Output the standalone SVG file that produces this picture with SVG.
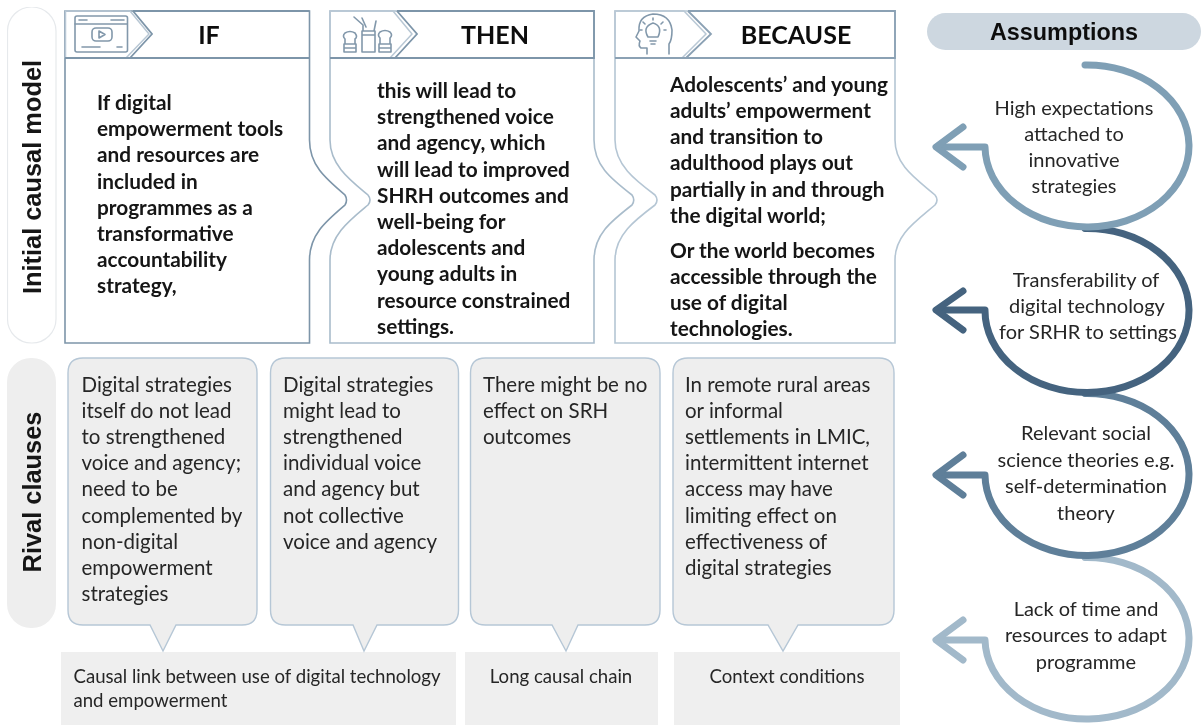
<svg xmlns="http://www.w3.org/2000/svg" width="1202" height="725" viewBox="0 0 1202 725">
<style>
text{font-family:"Lato","Liberation Sans",sans-serif;fill:#1c1c1c}
.b{font-size:20.8px;font-weight:700;fill:#141414}
.h{font-size:25px;font-weight:700;fill:#111;text-anchor:middle}
.r{font-size:20.5px;fill:#262626}
.a{font-size:20px;fill:#262626;text-anchor:middle}
.s{font-size:18.6px;fill:#262626}
.side{font-family:"Liberation Sans",sans-serif;font-size:25.4px;font-weight:700;text-anchor:middle;fill:#151515}
.box{fill:#fff;stroke-width:1.6}
.hd{fill:none;stroke-width:1.8}
.light{fill:none;stroke:#b9c8d5;stroke-width:1.5}
.ic{fill:none;stroke:#8298ab;stroke-width:1.6;stroke-linejoin:round;stroke-linecap:round}
.call{fill:#eeeeee;stroke:#b6c7d6;stroke-width:1.4}
.bar{fill:#efefef}
.arc{fill:none;stroke-width:7;stroke-linecap:round;stroke-linejoin:round}
</style>
<defs><filter id="soft" x="0" y="0" width="100%" height="100%"><feGaussianBlur stdDeviation="0.45"/></filter></defs>
<rect width="1202" height="725" fill="#fff"/>
<g filter="url(#soft)">
<g id="label-initial">
<rect x="7.500" y="7" width="48.500" height="336" rx="24" fill="#fff" stroke="#e6e9ec" stroke-width="1.200"/>
<text class="side" transform="translate(41,177) rotate(-90)">Initial causal model</text>
</g>
<g id="label-rival">
<rect x="7" y="358" width="49" height="270" rx="24" fill="#eeeeee"/>
<text class="side" transform="translate(41,492) rotate(-90)">Rival clauses</text>
</g>
<g id="node-if">
<path class="box" stroke="#7d95a9" d="M65,11H309.500V140C309.500,165 325,178 345,195Q348,200 345,205C325,222 309.500,235 309.500,260V343H65Z"/>
<path class="light" d="M65.500,58V11H130L149,34L126,58"/>
<path class="hd" stroke="#7d95a9" d="M133,11L152,34L130,58M133,11H309.500M65,58H309.500"/>
<g class="ic">
<rect x="75" y="16" width="52.500" height="36" rx="2"/>
<path d="M75,24H127M79,20H87M111,20H124M82,47H100M117,47H122"/>
<rect x="92" y="28" width="20" height="13" rx="4"/>
<path d="M99,31V38L105,34.500Z"/>
</g>
<text class="h" x="209" y="44">IF</text>
<text class="b" x="97" y="110">If digital</text><text class="b" x="97" y="136.200">empowerment tools</text><text class="b" x="97" y="162.400">and resources are</text><text class="b" x="97" y="188.600">included in</text><text class="b" x="97" y="214.800">programmes as a</text><text class="b" x="97" y="241">transformative</text><text class="b" x="97" y="267.200">accountability</text><text class="b" x="97" y="293.400">strategy,</text>
</g>
<g id="node-then">
<path class="box" stroke="#a9bccb" d="M330,11H594V140C594,165 610,178 632,195Q635.500,200 632,205C610,222 594,235 594,260V343H330V260C330,235 350,220 368,205Q372,200 368,195C350,180 330,165 330,140Z"/>
<path class="light" d="M330,58V11H393L412,34L390,58"/>
<path class="hd" stroke="#7d95a9" d="M397,11L417,34L395,58M397,11H594V58H330"/>
<g class="ic">
<path d="M344,52V44H356V52ZM344,48H356M345,44V39Q342,36 345,33Q350,30 355,33Q358,37 355,39V44"/>
<path d="M362,52V31H375V52ZM362,35H375M363,31V25L354,17M366,27L362,18M374,31L376,21"/>
<path d="M379,52V44H391V52ZM379,48H391M380,44V38Q377,35 380,32Q385,29 390,32Q393,35 390,38V44"/>
</g>
<text class="h" x="495" y="44">THEN</text>
<text class="b" x="377" y="98">this will lead to</text><text class="b" x="377" y="124.200">strengthened voice</text><text class="b" x="377" y="150.400">and agency, which</text><text class="b" x="377" y="176.600">will lead to improved</text><text class="b" x="377" y="202.800">SHRH outcomes and</text><text class="b" x="377" y="229">well-being for</text><text class="b" x="377" y="255.200">adolescents and</text><text class="b" x="377" y="281.400">young adults in</text><text class="b" x="377" y="307.600">resource constrained</text><text class="b" x="377" y="333.800">settings.</text>
</g>
<g id="node-because">
<path class="box" stroke="#b5c6d4" d="M615,11H895V140C895,165 915,178 935,195Q939,200 935,205C915,222 895,235 895,260V343H615V260C615,235 635,220 655,205Q659,200 655,195C635,180 615,165 615,140Z"/>
<path class="light" d="M615,58V11H684L706,34L682,58"/>
<path class="hd" stroke="#8ba1b4" d="M688,11L711,34L686,58M688,11H895V58H615"/>
<g class="ic">
<path d="M647,54V48H641Q638,46 640,41L636,37L639,31Q638,16 653,14Q670,14 672,30Q672,40 669,44V54"/>
<path d="M648,37Q642,27 653,23Q663,26 658,37ZM650,41H656M651,44H655"/>
<path d="M653,18V20M643,22L645,24M663,22L661,24M640,30H642M664,30H666"/>
</g>
<text class="h" x="796" y="44">BECAUSE</text>
<text class="b" x="670" y="91.700">Adolescents’ and young</text><text class="b" x="670" y="117.900">adults’ empowerment</text><text class="b" x="670" y="144.100">and transition to</text><text class="b" x="670" y="170.300">adulthood plays out</text><text class="b" x="670" y="196.500">partially in and through</text><text class="b" x="670" y="222.700">the digital world;</text><text class="b" x="670" y="257.700">Or the world becomes</text><text class="b" x="670" y="283.900">accessible through the</text><text class="b" x="670" y="310.100">use of digital</text><text class="b" x="670" y="336.300">technologies.</text>
</g>
<g id="node-assumptions-title">
<rect x="927" y="13" width="274" height="37" rx="18.500" fill="#cdd7e0"/>
<text x="1064" y="40" text-anchor="middle" style="font-family:'Liberation Sans',sans-serif;font-size:23.400px;font-weight:700;fill:#111">Assumptions</text>
</g>
<g id="connectors">
<g class="arc" stroke="#a2b9ca"><path d="M1085,557.500A102,81 0 1 1 985,640H938"/><path d="M963,620L936,640L963,660"/></g>
<g class="arc" stroke="#5e7f99"><path d="M1085,393.500A102,81 0 1 1 985,475H938"/><path d="M963,455L936,475L963,495"/></g>
<g class="arc" stroke="#44647f"><path d="M1085,228.500A102,82 0 1 1 985,310H938"/><path d="M963,291L936,310L963,330"/></g>
<g class="arc" stroke="#7f9fb5"><path d="M1085,65A102,81 0 1 1 985,147H938"/><path d="M963,127L936,147L963,167"/></g>
</g>
<g id="node-a1"><text class="a" x="1074" y="115">High expectations</text><text class="a" x="1074" y="141">attached to</text><text class="a" x="1074" y="167">innovative</text><text class="a" x="1074" y="192.500">strategies</text></g>
<g id="node-a2"><text class="a" x="1086" y="287">Transferability of</text><text class="a" x="1087" y="312.500">digital technology</text><text class="a" x="1088" y="338.500">for SRHR to settings</text></g>
<g id="node-a3"><text class="a" x="1086" y="440">Relevant social</text><text class="a" x="1086" y="466.500">science theories e.g.</text><text class="a" x="1086" y="493">self-determination</text><text class="a" x="1086" y="519.500">theory</text></g>
<g id="node-a4"><text class="a" x="1086" y="616">Lack of time and</text><text class="a" x="1086" y="642">resources to adapt</text><text class="a" x="1086" y="668.500">programme</text></g>
<g id="node-bar1"><rect class="bar" x="61" y="652" width="395" height="73"/><text class="s" x="73.500" y="683">Causal link between use of digital technology</text><text class="s" x="73.500" y="707">and empowerment</text></g>
<g id="node-bar2"><rect class="bar" x="465" y="652" width="193" height="73"/><text class="s" x="561" y="683" text-anchor="middle">Long causal chain</text></g>
<g id="node-bar3"><rect class="bar" x="674" y="652" width="226" height="73"/><text class="s" x="787" y="683" text-anchor="middle">Context conditions</text></g>
<g id="node-r1">
<path class="call" d="M83,358H242Q257,358 257,373V610Q257,625 242,625H176L163,651L150,625H83Q68,625 68,610V373Q68,358 83,358Z"/>
<text class="r" x="81.500" y="392">Digital strategies</text><text class="r" x="81.500" y="418">itself do not lead</text><text class="r" x="81.500" y="444">to strengthened</text><text class="r" x="81.500" y="470.200">voice and agency;</text><text class="r" x="81.500" y="496.400">need to be</text><text class="r" x="81.500" y="522.600">complemented by</text><text class="r" x="81.500" y="548.800">non-digital</text><text class="r" x="81.500" y="575">empowerment</text><text class="r" x="81.500" y="601">strategies</text>
</g>
<g id="node-r2">
<path class="call" d="M285.500,358H443.500Q458.500,358 458.500,373V610Q458.500,625 443.500,625H377L364,651L353,625H285.500Q270.500,625 270.500,610V373Q270.500,358 285.500,358Z"/>
<text class="r" x="283" y="392">Digital strategies</text><text class="r" x="283" y="418">might lead to</text><text class="r" x="283" y="444">strengthened</text><text class="r" x="283" y="470.200">individual voice</text><text class="r" x="283" y="496.400">and agency but</text><text class="r" x="283" y="522.600">not collective</text><text class="r" x="283" y="548.800">voice and agency</text>
</g>
<g id="node-r3">
<path class="call" d="M485.500,358H645Q660,358 660,373V610Q660,625 645,625H578L566,651L552,625H485.500Q470.500,625 470.500,610V373Q470.500,358 485.500,358Z"/>
<text class="r" x="483" y="392">There might be no</text><text class="r" x="483" y="418">effect on SRH</text><text class="r" x="483" y="444">outcomes</text>
</g>
<g id="node-r4">
<path class="call" d="M688,358H879Q894,358 894,373V610Q894,625 879,625H798L783,651L768,625H688Q673,625 673,610V373Q673,358 688,358Z"/>
<text class="r" x="685" y="392">In remote rural areas</text><text class="r" x="685" y="418">or informal</text><text class="r" x="685" y="444">settlements in LMIC,</text><text class="r" x="685" y="470.200">intermittent internet</text><text class="r" x="685" y="496.400">access may have</text><text class="r" x="685" y="522.600">limiting effect on</text><text class="r" x="685" y="548.800">effectiveness of</text><text class="r" x="685" y="575">digital strategies</text>
</g>
</g>
</svg>
